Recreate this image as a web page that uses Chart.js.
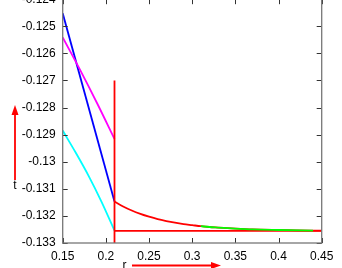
<!DOCTYPE html>
<html>
<head>
<meta charset="utf-8">
<script src="https://cdn.jsdelivr.net/npm/chart.js@4.4.1/dist/chart.umd.min.js"></script>
<style>
    html, body { margin: 0; padding: 0; background: #fff; }
    #wrap { position: relative; width: 342px; height: 268px; overflow: hidden; }
    #plot { position: absolute; left: 0; top: -15px; }
</style>
</head>
<body>
<div id="wrap"><canvas id="plot" width="342" height="283"></canvas></div>
<script>
"use strict";

// canvas is shifted up so the top tick label is cut like in the original
// (chart.js keeps the plot top at ~14px whatever the padding, so shift by 15)
const SHIFT = 15;

const xTickValues = [0.15, 0.2, 0.25, 0.3, 0.35, 0.4, 0.45];
const yTickValues = [-0.133, -0.132, -0.131, -0.13, -0.129, -0.128, -0.127, -0.126, -0.125, -0.124];

const blueR = [0.15, 0.21];
const blueT = [-0.12452, -0.13147];

const magentaR = [0.15, 0.17, 0.19, 0.21];
const magentaT = [-0.12541, -0.12660, -0.12785, -0.12916];

const cyanR = [0.15, 0.165, 0.18, 0.195, 0.21];
const cyanT = [-0.12885, -0.12966, -0.13052, -0.13148, -0.13254];

const redCurveR = [0.21, 0.22, 0.23, 0.24, 0.25, 0.26, 0.27, 0.28, 0.29, 0.30, 0.31, 0.32, 0.33, 0.35, 0.37, 0.40, 0.44, 0.45];
const redCurveT = [-0.13147, -0.13165, -0.13180, -0.131925, -0.13203, -0.13212, -0.13219, -0.13225, -0.13230, -0.13234,
                   -0.13238, -0.13241, -0.13243, -0.13247, -0.13250, -0.13252, -0.13254, -0.13254];

const greenR = [0.31, 0.32, 0.33, 0.35, 0.37, 0.40, 0.44];
const greenT = [-0.13238, -0.13241, -0.13243, -0.13247, -0.13250, -0.13252, -0.13254];

const redVertR = [0.21, 0.21];
const redVertT = [-0.127, -0.133];

const redFlatR = [0.21, 0.45];
const redFlatT = [-0.13255, -0.13255];

function pts(rs, ts) {
    return rs.map((r, i) => ({ x: r, y: ts[i] }));
}

function line(data, color, order, smooth) {
    return {
        data: data, borderColor: color, borderWidth: 1.8, pointRadius: 0,
        showLine: true, fill: false, order: order,
        cubicInterpolationMode: smooth ? 'monotone' : 'default', tension: 0
    };
}

function fmt(v, d) { return String(Number(v.toFixed(d))); }

function drawArrow(ctx, x1, y1, x2, y2) {
    const ang = Math.atan2(y2 - y1, x2 - x1);
    const len = 10, half = 3.5;
    ctx.save();
    ctx.strokeStyle = '#ff0000';
    ctx.fillStyle = '#ff0000';
    ctx.lineWidth = 1.8;
    ctx.beginPath();
    ctx.moveTo(x1, y1);
    ctx.lineTo(x2 - Math.cos(ang) * len * 0.8, y2 - Math.sin(ang) * len * 0.8);
    ctx.stroke();
    ctx.beginPath();
    ctx.moveTo(x2, y2);
    ctx.lineTo(x2 - Math.cos(ang) * len - Math.sin(ang) * half, y2 - Math.sin(ang) * len + Math.cos(ang) * half);
    ctx.lineTo(x2 - Math.cos(ang) * len + Math.sin(ang) * half, y2 - Math.sin(ang) * len - Math.cos(ang) * half);
    ctx.closePath();
    ctx.fill();
    ctx.restore();
}

// gnuplot style frame with inward ticks, plus the axis labels with arrows
const framePlugin = {
    id: 'frame',
    afterDraw(chart) {
        const { ctx, chartArea: a, scales } = chart;
        ctx.save();
        ctx.strokeStyle = '#333';
        ctx.lineWidth = 1;
        ctx.beginPath();
        xTickValues.forEach(v => {
            const px = Math.round(scales.x.getPixelForValue(v)) + 0.5;
            ctx.moveTo(px, a.bottom); ctx.lineTo(px, a.bottom - 5);
            ctx.moveTo(px, a.top); ctx.lineTo(px, a.top + 5);
        });
        yTickValues.forEach(v => {
            const py = Math.round(scales.y.getPixelForValue(v)) + 0.5;
            ctx.moveTo(a.left, py); ctx.lineTo(a.left + 5, py);
            ctx.moveTo(a.right, py); ctx.lineTo(a.right - 5, py);
        });
        ctx.stroke();
        ctx.strokeStyle = '#777';
        ctx.lineWidth = 1.3;
        ctx.strokeRect(a.left, a.top, a.right - a.left, a.bottom - a.top);

        ctx.fillStyle = '#000';
        ctx.font = '12px "Liberation Sans", Arial, sans-serif';
        ctx.textAlign = 'center';
        ctx.textBaseline = 'alphabetic';
        ctx.fillText('t', 15, 189 + SHIFT);
        ctx.fillText('r', 124.5, 269 + SHIFT);
        ctx.restore();

        drawArrow(ctx, 15, 180 + SHIFT, 15, 105 + SHIFT);
        drawArrow(ctx, 132, 265.5 + SHIFT, 221, 265.5 + SHIFT);
    }
};

new Chart(document.getElementById('plot'), {
    type: 'scatter',
    data: {
        datasets: [
            line(pts(greenR, greenT), '#00ff00', 0, true),
            line(pts(redCurveR, redCurveT), '#ff0000', 1, true),
            line(pts(redFlatR, redFlatT), '#ff0000', 2, false),
            line(pts(redVertR, redVertT), '#ff0000', 3, false),
            line(pts(cyanR, cyanT), '#00ffff', 4, true),
            line(pts(magentaR, magentaT), '#ff00ff', 5, true),
            line(pts(blueR, blueT), '#0000ff', 6, false)
        ]
    },
    options: {
        responsive: false, animation: false, devicePixelRatio: 1,
        layout: { autoPadding: false, padding: { top: 4.2, right: 20.3, bottom: 0, left: 0 } },
        plugins: { legend: { display: false }, tooltip: { enabled: false } },
        scales: {
            x: {
                type: 'linear', min: 0.15, max: 0.45,
                grid: { display: false, drawTicks: false }, border: { display: false },
                afterFit: s => { s.height = 25; },
                afterBuildTicks: s => { s.ticks = xTickValues.map(v => ({ value: v })); },
                ticks: {
                    color: '#000', padding: 6, maxRotation: 0, autoSkip: false,
                    font: { family: '"Liberation Sans", Arial, sans-serif', size: 12 },
                    callback: v => fmt(v, 2)
                }
            },
            y: {
                type: 'linear', min: -0.133, max: -0.124,
                grid: { display: false, drawTicks: false }, border: { display: false },
                afterFit: s => { s.width = 62.7; },
                afterBuildTicks: s => { s.ticks = yTickValues.map(v => ({ value: v })); },
                ticks: {
                    color: '#000', padding: 7, autoSkip: false,
                    font: { family: '"Liberation Sans", Arial, sans-serif', size: 12 },
                    callback: v => fmt(v, 3)
                }
            }
        }
    },
    plugins: [framePlugin]
});
</script>
</body>
</html>
